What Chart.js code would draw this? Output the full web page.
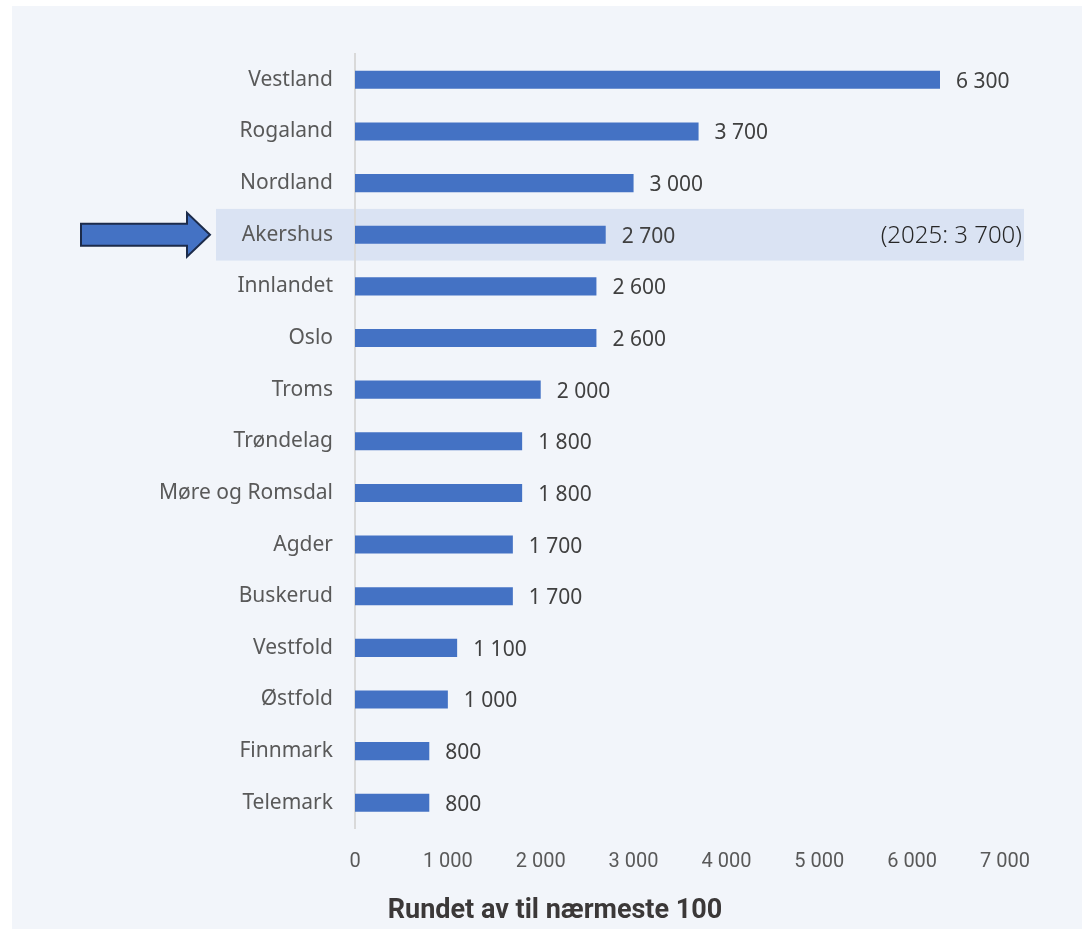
<!DOCTYPE html>
<html>
<head>
<meta charset="utf-8">
<script src="https://cdn.jsdelivr.net/npm/chart.js@4.4.1/dist/chart.umd.min.js"></script>
<style>
  html, body { margin: 0; padding: 0; background: #ffffff; }
  #wrap { width: 1082px; height: 929px; }
</style>
</head>
<body>
<div id="wrap"><canvas id="chart" width="1082" height="929"></canvas></div>
<script>
// --- data ---
const regions = ['Vestland', 'Rogaland', 'Nordland', 'Akershus', 'Innlandet', 'Oslo', 'Troms',
    'Trøndelag', 'Møre og Romsdal', 'Agder', 'Buskerud', 'Vestfold', 'Østfold', 'Finnmark', 'Telemark'];
const counts = [6300, 3700, 3000, 2700, 2600, 2600, 2000, 1800, 1800, 1700, 1700, 1100, 1000, 800, 800];
const highlightRegion = 'Akershus';
const highlightNote = '(2025: 3 700)';
const chartTitle = 'Rundet av til nærmeste 100';

const fmt = v => String(v).replace(/\B(?=(\d{3})+(?!\d))/g, ' ');

const narrow = '"Liberation Sans Narrow", "Roboto", sans-serif';

// panel background + highlight band + arrow
const decor = {
    id: 'decor',
    beforeDraw(chart) {
        const { ctx, scales: { x, y }, chartArea } = chart;
        ctx.save();
        ctx.fillStyle = '#f2f5fa';
        ctx.fillRect(12, 6, chart.width - 12, chart.height - 6);

        const idx = regions.indexOf(highlightRegion);
        const cy = y.getPixelForValue(idx);
        const half = (y.getPixelForValue(1) - y.getPixelForValue(0)) / 2;
        const bandL = chartArea.left - 139;
        const bandR = chartArea.right + 19;
        ctx.fillStyle = '#dae3f3';
        ctx.fillRect(bandL, cy - half, bandR - bandL, half * 2);

        // arrow pointing at the band
        const tip = bandL - 6;
        ctx.beginPath();
        ctx.moveTo(tip - 129, cy - 11);
        ctx.lineTo(tip - 23, cy - 11);
        ctx.lineTo(tip - 23, cy - 22);
        ctx.lineTo(tip, cy);
        ctx.lineTo(tip - 23, cy + 22);
        ctx.lineTo(tip - 23, cy + 11);
        ctx.lineTo(tip - 129, cy + 11);
        ctx.closePath();
        ctx.fillStyle = '#4472c4';
        ctx.fill();
        ctx.lineWidth = 2;
        ctx.strokeStyle = '#1c2b4a';
        ctx.stroke();

        ctx.font = '300 24px "Noto Sans", sans-serif';
        ctx.fillStyle = '#262626';
        ctx.textAlign = 'right';
        ctx.textBaseline = 'middle';
        ctx.fillText(highlightNote, bandR - 2, cy + 1);
        ctx.restore();
    },
    afterDatasetsDraw(chart) {
        const { ctx } = chart;
        const meta = chart.getDatasetMeta(0);
        ctx.save();
        ctx.font = '21px "Noto Sans", sans-serif';
        ctx.fillStyle = '#404040';
        ctx.textAlign = 'left';
        ctx.textBaseline = 'middle';
        meta.data.forEach((bar, i) => {
            ctx.fillText(fmt(counts[i]), bar.x + 16, bar.y + 2);
        });
        ctx.restore();
    }
};

new Chart(document.getElementById('chart'), {
    type: 'bar',
    data: {
        labels: regions,
        datasets: [{
            data: counts,
            backgroundColor: '#4472c4',
            borderWidth: 0,
            barPercentage: 0.35,
            categoryPercentage: 1
        }]
    },
    options: {
        indexAxis: 'y',
        responsive: false,
        animation: false,
        devicePixelRatio: 1,
        layout: { padding: { left: 105, right: 77, top: 54, bottom: 0 } },
        plugins: {
            legend: { display: false },
            tooltip: { enabled: false },
            title: {
                display: true,
                position: 'bottom',
                text: chartTitle,
                color: '#3b3838',
                font: { family: narrow, size: 27, weight: 'bold' },
                padding: { top: 0, bottom: 2 }
            }
        },
        scales: {
            x: {
                min: 0,
                max: 7000,
                ticks: {
                    stepSize: 1000,
                    color: '#595959',
                    padding: 21,
                    maxRotation: 0,
                    font: { family: narrow, size: 20 },
                    callback: v => fmt(v)
                },
                grid: { display: false, drawTicks: false },
                border: { display: false }
            },
            y: {
                afterFit(scale) { scale.width = 250; },
                ticks: {
                    color: '#595959',
                    padding: 22,
                    font: { family: '"Noto Sans", sans-serif', size: 21 }
                },
                grid: { display: false, drawTicks: false },
                border: { display: true, color: '#d9d9d9', width: 2 }
            }
        }
    },
    plugins: [decor]
});
</script>
</body>
</html>
